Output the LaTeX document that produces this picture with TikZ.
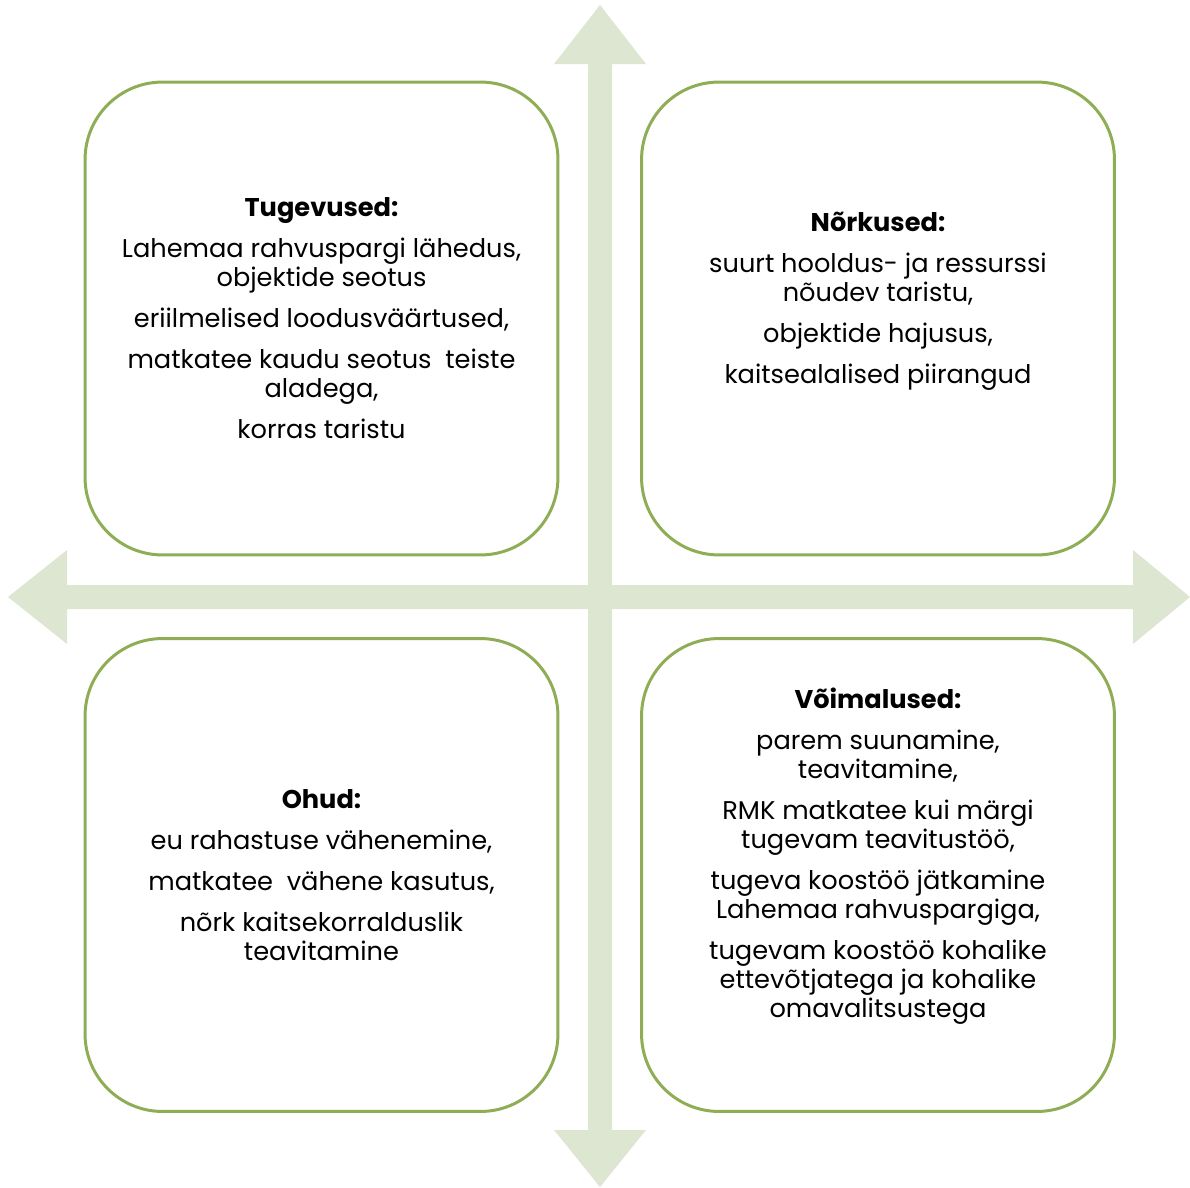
\documentclass[tikz,border=0pt]{standalone}
\usepackage{fontspec}
\setmainfont{Poppins}
\usepackage{tikz}
\usetikzlibrary{positioning}
\definecolor{boxgreen}{HTML}{8EAD55}
\definecolor{crossgreen}{HTML}{DDE6D0}

\begin{document}
\begin{tikzpicture}[x=0.02cm,y=-0.02cm,
    quad/.style={draw=boxgreen,line width=1.7pt,fill=white,rounded corners=1.55cm,
        minimum width=9.46cm,minimum height=9.46cm},
    quadtext/.style={align=center,font=\fontsize{14.6}{16.5}\selectfont}]
    \useasboundingbox (0,0) rectangle (1190,1187);

    % Cross arrows
    \fill[crossgreen] (600,5) -- (646,64) -- (612,64) -- (612,1130) -- (646,1130)
        -- (600,1187) -- (554,1130) -- (588,1130) -- (588,64) -- (554,64) -- cycle;
    \fill[crossgreen] (8,597) -- (67,550) -- (67,585) -- (1133,585) -- (1133,550)
        -- (1190,597) -- (1133,644) -- (1133,609) -- (67,609) -- (67,644) -- cycle;

    % Quadrants
    \node[quad] (tug) at (321.5,318.5) {};
    \node[quad] (nork) at (878,318.5) {};
    \node[quad] (ohud) at (321.5,875) {};
    \node[quad] (voim) at (878,875) {};

    % Texts
    \node[quadtext] (tugtext) at (tug.center) {\textbf{Tugevused:}\\[0.24cm]
        Lahemaa rahvuspargi lähedus,\\ objektide seotus\\[0.24cm]
        eriilmelised loodusväärtused,\\[0.24cm]
        matkatee kaudu seotus~~teiste\\ aladega,\\[0.24cm]
        korras taristu};
    \node[quadtext,yshift=0.34cm] (norktext) at (nork.center) {\textbf{Nõrkused:}\\[0.24cm]
        suurt hooldus- ja ressurssi\\ nõudev taristu,\\[0.24cm]
        objektide hajusus,\\[0.24cm]
        kaitsealalised piirangud};
    \node[quadtext] (ohudtext) at (ohud.center) {\textbf{Ohud:}\\[0.24cm]
        eu rahastuse vähenemine,\\[0.24cm]
        matkatee~~vähene kasutus,\\[0.24cm]
        nõrk kaitsekorralduslik\\ teavitamine};
    \node[quadtext,yshift=0.38cm] (voimtext) at (voim.center) {\textbf{Võimalused:}\\[0.24cm]
        parem suunamine,\\ teavitamine,\\[0.24cm]
        RMK matkatee kui märgi\\ tugevam teavitustöö,\\[0.24cm]
        tugeva koostöö jätkamine\\ Lahemaa rahvuspargiga,\\[0.24cm]
        tugevam koostöö kohalike\\ ettevõtjatega ja kohalike\\ omavalitsustega};
\end{tikzpicture}
\end{document}
